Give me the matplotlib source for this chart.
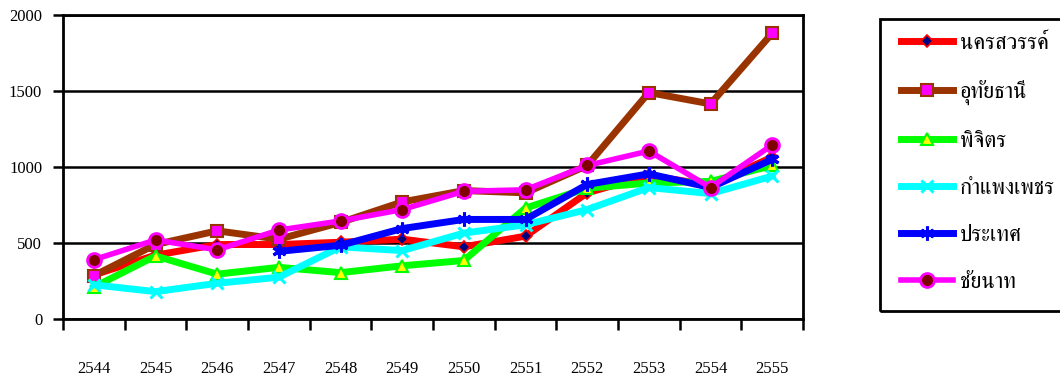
import numpy as np
import matplotlib
matplotlib.use("Agg")
import matplotlib.pyplot as plt
from matplotlib import font_manager, ft2font
from matplotlib.patches import Rectangle

years = ["2544", "2545", "2546", "2547", "2548", "2549",
         "2550", "2551", "2552", "2553", "2554", "2555"]

nakhon_sawan = [290, 420, 490, 490, 505, 525, 475, 545, 830, 945, 880, 1065]
uthai_thani = [285, 490, 580, 525, 635, 770, 845, 830, 1010, 1490, 1415, 1880]
phichit = [210, 415, 295, 340, 305, 350, 385, 730, 860, 895, 905, 1010]
kamphaeng_phet = [225, 180, 235, 275, 475, 450, 565, 620, 720, 865, 825, 940]
country = [np.nan, np.nan, np.nan, 445, 485, 595, 655, 655, 885, 955, 865, 1050]
chai_nat = [390, 520, 455, 585, 645, 720, 840, 850, 1010, 1105, 865, 1145]

series_names = ["นครสวรรค์", "อุทัยธานี", "พิจิตร", "กำแพงเพชร", "ประเทศ", "ชัยนาท"]


def thai_capable_family():
    """Pick an installed family that covers Thai script."""
    found = []
    for f in font_manager.fontManager.ttflist:
        try:
            cmap = ft2font.FT2Font(f.fname).get_charmap()
        except Exception:
            continue
        if 0x0E01 in cmap and 0x0E4C in cmap:
            found.append(f.name)
    if not found:
        return "DejaVu Sans"
    for pref in ("Serif", "Loma", "Garuda", "Sarabun", "Thai"):
        for n in found:
            if pref in n:
                return n
    return found[0]


thai_font = thai_capable_family()
families = ["Liberation Serif", thai_font, "DejaVu Sans"]
plt.rcParams["font.family"] = families

fig = plt.figure(figsize=(10.6, 3.8), dpi=100)
ax = fig.add_axes([63 / 1060, 1 - 319 / 380, (803 - 63) / 1060, (319 - 15) / 380])

x = np.arange(len(years))
styles = [
    dict(color="#FF0000", lw=5, marker="D", ms=6, mfc="#000080", mec="#FF0000", mew=1.2),
    dict(color="#993300", lw=5, marker="s", ms=9, mfc="#FF00FF", mec="#993300", mew=1.5),
    dict(color="#00FF00", lw=5, marker="^", ms=9, mfc="#FFFF00", mec="#00FF00", mew=1.5),
    dict(color="#00FFFF", lw=5, marker="x", ms=9, mfc="none", mec="#00FFFF", mew=2.2),
    dict(color="#0000FF", lw=5, marker=(6, 2, 0), ms=10, mfc="none", mec="#0000FF", mew=2.2),
    dict(color="#FF00FF", lw=4, marker="o", ms=10, mfc="#800000", mec="#FF00FF", mew=2),
]
all_series = [nakhon_sawan, uthai_thani, phichit, kamphaeng_phet, country, chai_nat]
handles = []
for vals, name, st in zip(all_series, series_names, styles):
    (h,) = ax.plot(x, vals, label=name, solid_joinstyle="miter", **st)
    handles.append(h)

ax.set_xlim(-0.5, len(years) - 0.5)
ax.set_ylim(0, 2000)
ax.set_yticks([0, 500, 1000, 1500, 2000])
ax.yaxis.grid(True, color="black", lw=1.8)
ax.set_axisbelow(True)

ax.set_xticks(np.arange(-0.5, len(years), 1.0))
ax.set_xticklabels([])
ax.set_xticks(x, minor=True)
ax.set_xticklabels(years, minor=True)
ax.tick_params(axis="x", which="major", direction="out", length=8, width=1.8, color="black")
ax.tick_params(axis="x", which="minor", length=0, pad=30, labelsize=12)
ax.tick_params(axis="y", direction="out", length=7, width=1.8, labelsize=12, pad=8)
for s in ax.spines.values():
    s.set_linewidth(2)
    s.set_color("black")

# legend frame running off the right edge
fig.patches.append(Rectangle((880 / 1060, 1 - 311 / 380), 0.2, (311 - 19) / 380,
                             transform=fig.transFigure, fill=False, ec="black", lw=2))
leg = fig.legend(handles=handles, loc="upper left",
                 bbox_to_anchor=(901 / 1060, 1 - 33 / 380),
                 frameon=False, fontsize=16, handlelength=2.35, handletextpad=0.3,
                 labelspacing=1.19, borderaxespad=0, borderpad=0)

fig.savefig("out.png", dpi=100)
